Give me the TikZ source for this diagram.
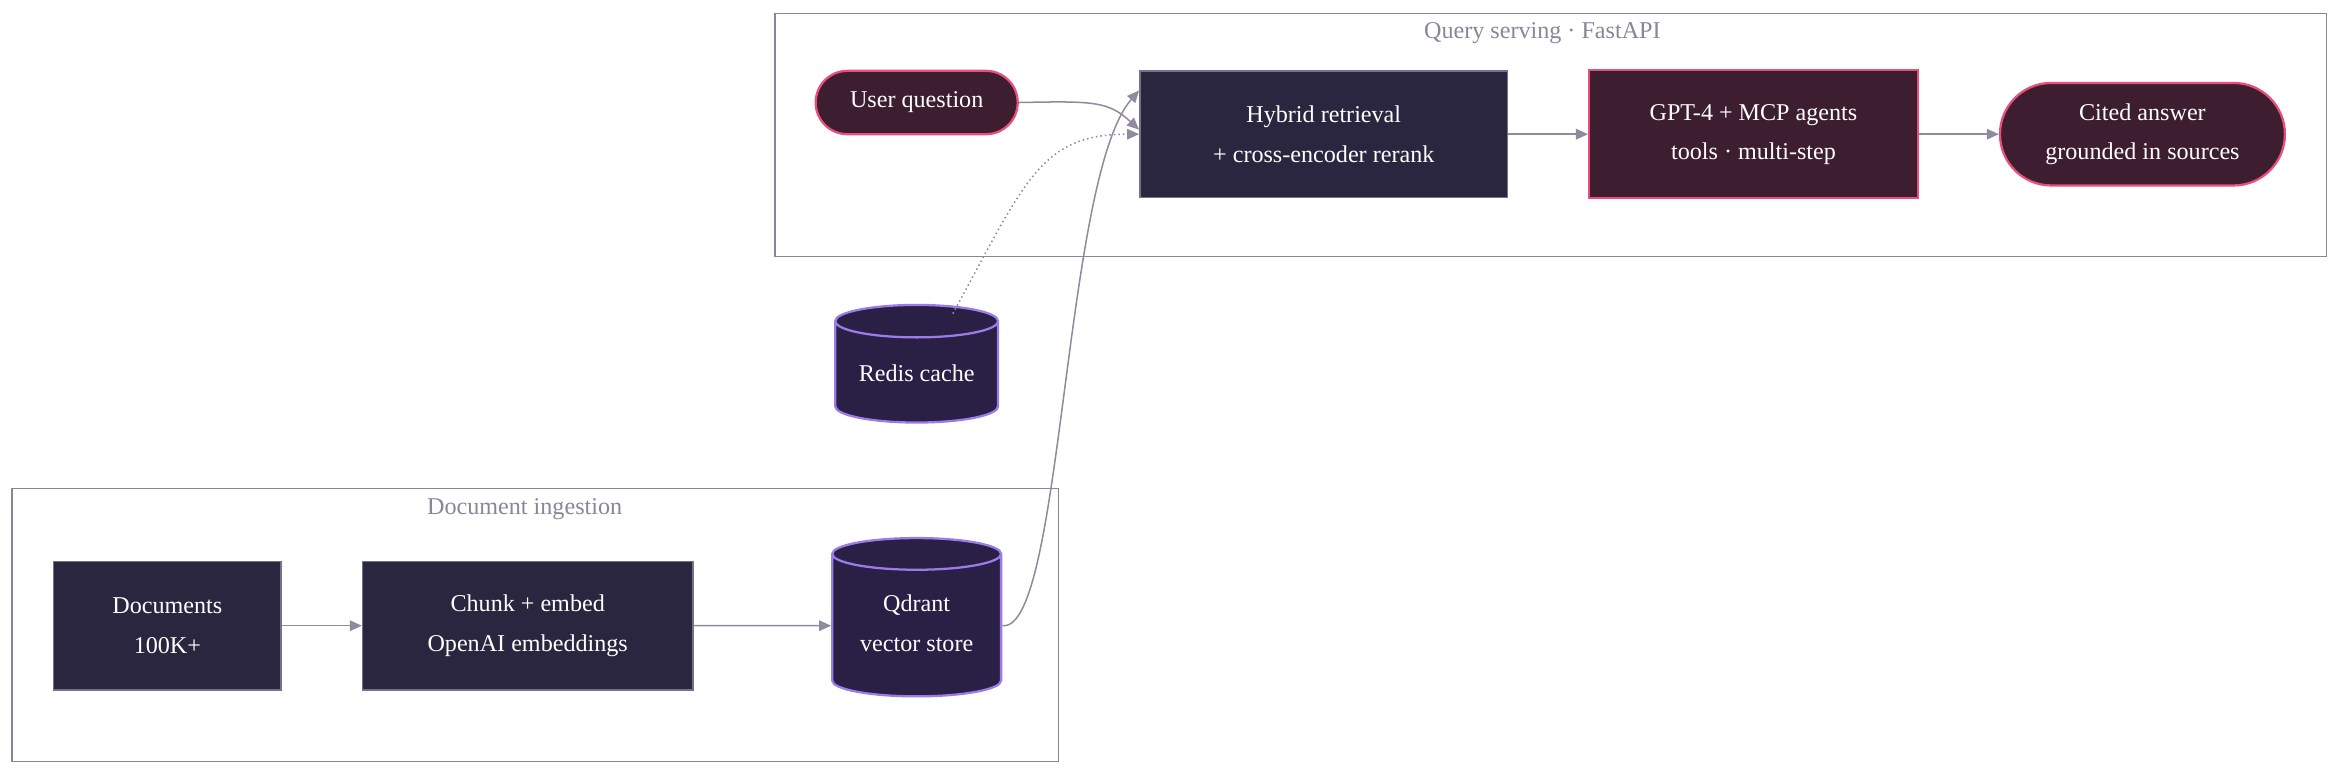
\documentclass[tikz,border=0pt]{standalone}
\usepackage{fontspec}
\setmainfont{Liberation Serif}
\usetikzlibrary{shapes.geometric,shapes.misc,arrows.meta}
\definecolor{boxfill}{HTML}{2B2640}
\definecolor{boxline}{HTML}{77708A}
\definecolor{cylfill}{HTML}{2A1F45}
\definecolor{cylline}{HTML}{9B7BE8}
\definecolor{redfill}{HTML}{3D1D30}
\definecolor{redline}{HTML}{E94F7A}
\definecolor{edge}{HTML}{8F8A9E}
\definecolor{grp}{HTML}{8A8599}
\begin{document}
\begin{tikzpicture}[x=1pt,y=-1pt,
  every node/.style={font=\fontsize{16}{19}\selectfont, text=white, align=center},
  proc/.style={draw=boxline, fill=boxfill, line width=1pt, inner sep=0pt},
  agent/.style={draw=redline, fill=redfill, line width=1.5pt, inner sep=0pt},
  term/.style={rounded rectangle, draw=redline, fill=redfill, line width=1.5pt, inner sep=0pt},
  db/.style={cylinder, shape border rotate=90, aspect=0.28, draw=cylline, fill=cylfill, line width=1.5pt, inner sep=0pt},
  group/.style={draw=grp, line width=1pt},
  gtitle/.style={text=grp},
  conn/.style={draw=edge, line width=1pt, -{Triangle[length=8pt,width=7pt]}}]
\useasboundingbox (0,0) rectangle (1560,517);
\node[group, minimum width=1029, minimum height=161] (qbox) at (1028.5,89.5) {};
\node[gtitle] (qt) at (1023,22) {Query serving · FastAPI};
\node[group, minimum width=694, minimum height=181] (ibox) at (355,414.5) {};
\node[gtitle] (it) at (348,338) {Document ingestion};

\node[term, minimum width=134, minimum height=42] (user) at (608,68) {User question};
\node[proc, minimum width=244, minimum height=84] (hyb) at (878,89) {Hybrid retrieval\\[7pt]+ cross-encoder rerank};
\node[agent, minimum width=218, minimum height=85] (gpt) at (1163,89) {GPT-4 + MCP agents\\[7pt]tools · multi-step};
\node[term, minimum width=189, minimum height=68] (cited) at (1421,89) {Cited answer\\[7pt]grounded in sources};
\node[db, minimum width=108, minimum height=78] (redis) at (608,247) {\raisebox{-12pt}{Redis cache}};
\node[proc, minimum width=151, minimum height=85] (docs) at (111,415) {Documents\\[7pt]100K+};
\node[proc, minimum width=219, minimum height=85] (chunk) at (350,415) {Chunk + embed\\[7pt]OpenAI embeddings};
\node[db, minimum width=112, minimum height=105] (qd) at (608,415) {\raisebox{-8pt}{\begin{tabular}{@{}c@{}}Qdrant\\[7pt]vector store\end{tabular}}};

\coordinate (redtop) at (632,208);
\draw[conn] (user.east) .. controls (725,67) and (735,67) .. ([yshift=3pt]hyb.west);
\draw[conn, dotted] (redtop) .. controls (680,120) and (690,89) .. (hyb.west);
\draw[conn] (qd.east) .. controls (705,420) and (705,118) .. ([yshift=29pt]hyb.west);
\draw[conn] (hyb.east) -- (gpt.west);
\draw[conn] (gpt.east) -- (cited.west);
\draw[conn] (docs.east) -- (chunk.west);
\draw[conn] (chunk.east) -- (qd.east -| qd.west);
\end{tikzpicture}
\end{document}
